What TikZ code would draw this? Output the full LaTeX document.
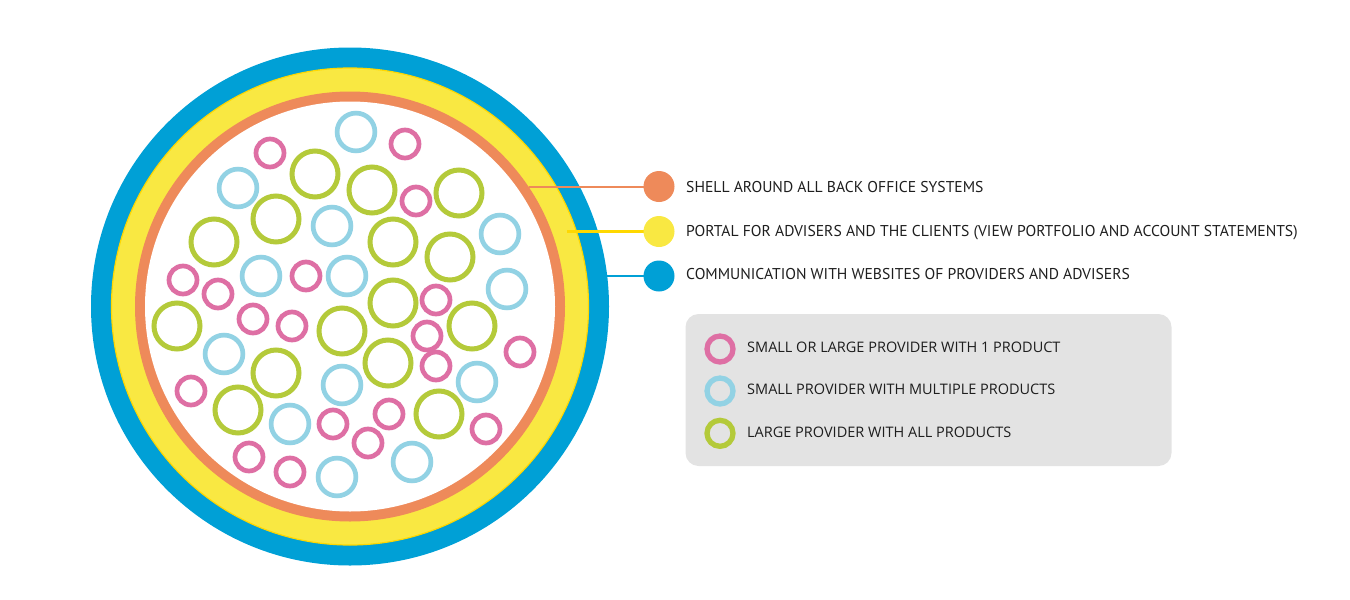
\documentclass[tikz,border=0pt]{standalone}
\usepackage{fontspec}
\setmainfont{Open Sans}
\newfontfamily\capfont{PT Sans}
\usetikzlibrary{positioning}
\definecolor{cableblue}{HTML}{00A0D6}
\definecolor{portalyellow}{HTML}{F9E842}
\definecolor{portaledge}{HTML}{FFD800}
\definecolor{shellorange}{HTML}{EE8A5A}
\definecolor{onepink}{HTML}{DE6FA4}
\definecolor{multiblue}{HTML}{92D2E4}
\definecolor{allgreen}{HTML}{B4CA3A}
\definecolor{boxgray}{HTML}{E3E3E3}
\definecolor{labeltext}{HTML}{1E1E1E}
\tikzset{%
layerdot/.style={circle, minimum size=31pt, inner sep=0pt},
layerlabel/.style={anchor=base west, inner sep=0pt, text=labeltext, font=\capfont\fontsize{15.65}{18}\selectfont},
lead/.style={line width=2pt},
keybox/.style={fill=boxgray, rounded corners=13pt, minimum width=486pt, minimum height=152pt, inner sep=0pt},
keyring/.style={circle, draw=#1, line width=5.3pt, minimum size=26pt, inner sep=0pt},
keylabel/.style={anchor=base west, inner sep=0pt, text=labeltext, font=\fontsize{14.5}{17}\selectfont},
pinkring/.style={draw=onepink, line width=4.7pt},
bluering/.style={draw=multiblue, line width=4.7pt},
greenring/.style={draw=allgreen, line width=5pt}
}

\begin{document}
\begin{tikzpicture}[x=1pt, y=-1pt]
\useasboundingbox (0,0) rectangle (1350,600);
% cable layers
\fill[cableblue] (350,306.5) circle (259);
\filldraw[fill=portalyellow, draw=portaledge, line width=1.2pt] (350,306.5) circle (238.5);
\fill[shellorange] (350,306.5) circle (215);
\fill[white] (350,306.5) circle (205);
% providers inside
\foreach \px/\py in {270/153,405/144,416/201,183/280,218/294,306/276,253/319,292/326,436/300,427/336,436/366,520/352,191/391,389/414,333/424,486/429,368/443,249/457,290/472}
  \draw[pinkring] (\px,\py) circle (14);
\foreach \px/\py in {356/132,238/188,332/226,500/234,261/276,347/276,507/289,224/354,342/385,477/382,290/424,412/462,337/477}
  \draw[bluering] (\px,\py) circle (18.9);
\foreach \px/\py in {315/174,372/190,459/193,276/219,214/242,393/242,450/257,393/303,177/326,342/331,472/326,276/373,388/363,238/410,439/414}
  \draw[greenring] (\px,\py) circle (23);
% layer labels
\coordinate (shellstart) at (529,186.5);
\coordinate (portalstart) at (567,231.5);
\coordinate (webstart) at (607,276);
\draw[lead, shellorange] (shellstart) -- (659,186.5);
\draw[lead, portaledge, line width=2.5pt] (portalstart) -- (659,231.5);
\draw[lead, cableblue] (webstart) -- (659,276);
\node[layerdot, fill=shellorange] (shell) at (659,186.5) {};
\node[layerdot, fill=portalyellow] (portal) at (659,231.5) {};
\node[layerdot, fill=cableblue] (web) at (659,276) {};
\node[layerlabel] (shelltext) at (686,192.5) {SHELL AROUND ALL BACK OFFICE SYSTEMS};
\node[layerlabel] (portaltext) at (686,236) {PORTAL FOR ADVISERS AND THE CLIENTS (VIEW PORTFOLIO AND ACCOUNT STATEMENTS)};
\node[layerlabel] (webtext) at (686,279.5) {COMMUNICATION WITH WEBSITES OF PROVIDERS AND ADVISERS};
% key
\node[keybox] (key) at (928.5,390) {};
\node[keyring=onepink] (onering) at (720,349) {};
\node[keyring=multiblue] (multiring) at (720,391) {};
\node[keyring=allgreen] (allring) at (720,433.3) {};
\node[keylabel] (onetext) at (747,352.5) {SMALL OR LARGE PROVIDER WITH 1 PRODUCT};
\node[keylabel] (multitext) at (747,394.7) {SMALL PROVIDER WITH MULTIPLE PRODUCTS};
\node[keylabel] (alltext) at (747,437.3) {LARGE PROVIDER WITH ALL PRODUCTS};
\end{tikzpicture}
\end{document}
